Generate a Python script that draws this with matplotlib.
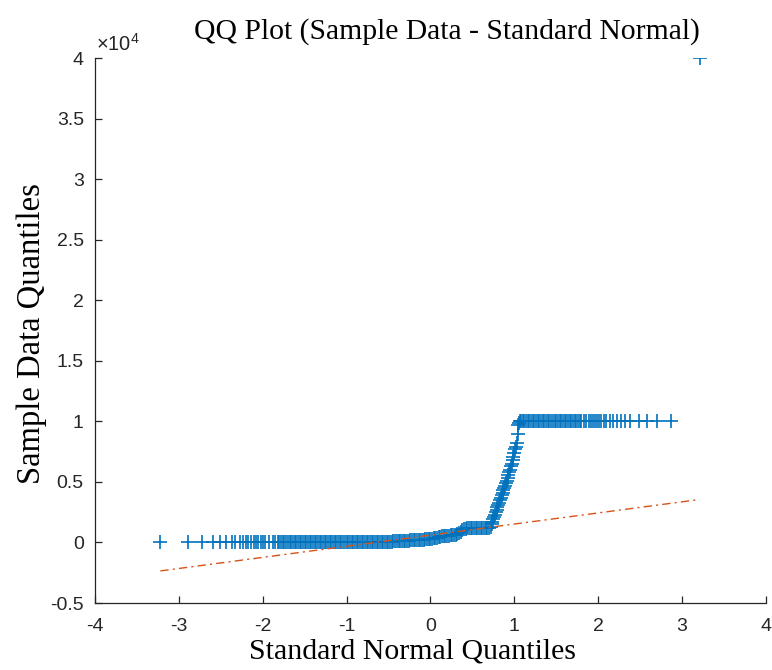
import matplotlib
matplotlib.use("Agg")
import matplotlib.pyplot as plt
from matplotlib.ticker import FuncFormatter

plt.rcParams["mathtext.fontset"] = "custom"
plt.rcParams["mathtext.rm"] = "Liberation Sans"
plt.rcParams["axes.unicode_minus"] = False

# QQ-Punkte: theoretische Quantile (x) und Stichproben-Quantile (y)
qq_x = [
    # linker Rand, einzelne Punkte
    -3.22, -2.89, -2.72, -2.59, -2.51, -2.44, -2.37, -2.33, -2.27, -2.23,
    -2.20, -2.17, -2.14, -2.10, -2.08, -2.05, -2.02, -2.00, -1.97, -1.92,
    -1.88, -1.85, -1.82,
    # dichtes Band um 0
    -1.80, -1.78, -1.76, -1.74, -1.72, -1.70, -1.68, -1.66, -1.64, -1.62,
    -1.60, -1.58, -1.56, -1.54, -1.52, -1.50, -1.48, -1.46, -1.44, -1.42,
    -1.40, -1.38, -1.36, -1.34, -1.32, -1.30, -1.28, -1.26, -1.24, -1.22,
    -1.20, -1.18, -1.16, -1.14, -1.12, -1.10, -1.08, -1.06, -1.04, -1.02,
    -1.00, -0.98, -0.96, -0.94, -0.92, -0.90, -0.88, -0.86, -0.84, -0.82,
    -0.80, -0.78, -0.76, -0.74, -0.72, -0.70, -0.68, -0.66, -0.64, -0.62,
    -0.60, -0.58, -0.56, -0.54, -0.52, -0.50, -0.48, -0.46, -0.44, -0.42,
    -0.40, -0.38, -0.36, -0.34, -0.32,
    # leichter Anstieg
    -0.30, -0.28, -0.26, -0.24, -0.22, -0.20, -0.18, -0.16, -0.14, -0.12,
    -0.10, -0.08, -0.06, -0.04, -0.02, 0.00, 0.02, 0.04, 0.06, 0.08,
    0.10, 0.12, 0.14, 0.16, 0.18, 0.20, 0.22, 0.24, 0.26, 0.28,
    0.30, 0.32, 0.34, 0.36, 0.38, 0.40, 0.42,
    # kleines Plateau
    0.44, 0.46, 0.48, 0.50, 0.52, 0.54, 0.56, 0.58, 0.60, 0.62,
    0.64, 0.66, 0.68, 0.70, 0.72,
    # Sprung auf 10000
    0.73, 0.74, 0.75, 0.76, 0.77, 0.78, 0.79, 0.80, 0.81, 0.82,
    0.83, 0.84, 0.85, 0.86, 0.87, 0.88, 0.89, 0.90, 0.91, 0.92,
    0.93, 0.94, 0.95, 0.96, 0.97, 0.98, 0.99, 1.00, 1.01, 1.02,
    1.03, 1.04, 1.05, 1.06, 1.07,
    # oberes Band
    1.08, 1.10, 1.12, 1.14, 1.16, 1.18, 1.20, 1.22, 1.24, 1.26,
    1.28, 1.30, 1.32, 1.34, 1.36, 1.38, 1.40, 1.42, 1.44, 1.46,
    1.48, 1.50, 1.52, 1.54, 1.56, 1.58, 1.60, 1.62, 1.64, 1.66,
    1.68, 1.70, 1.72, 1.74, 1.76, 1.78, 1.80,
    # rechter Rand
    1.83, 1.86, 1.89, 1.91, 1.94, 1.96, 1.99, 2.01, 2.03, 2.07,
    2.10, 2.14, 2.18, 2.22, 2.27, 2.32, 2.38, 2.49, 2.58, 2.70,
    2.87,
    # Ausreisser
    3.21,
]
qq_y = [
    0, 0, 0, 0, 0, 0, 0, 0, 0, 0,
    0, 0, 0, 0, 0, 0, 0, 0, 0, 0,
    0, 0, 0,
    0, 0, 0, 0, 0, 0, 0, 0, 0, 0,
    0, 0, 0, 0, 0, 0, 0, 0, 0, 0,
    0, 0, 0, 0, 0, 0, 0, 0, 0, 0,
    10, 10, 10, 10, 10, 10, 10, 10, 10, 10,
    10, 10, 10, 10, 10, 10, 10, 10, 10, 10,
    20, 20, 20, 20, 20, 20, 20, 20, 20, 20,
    30, 35, 40, 45, 50, 60, 70, 80, 90, 100,
    110, 115, 120, 125, 130,
    150, 155, 160, 167, 173, 180, 187, 193, 200, 213,
    227, 240, 253, 267, 280, 290, 310, 340, 370, 400,
    440, 470, 500, 520, 540, 560, 575, 590, 605, 620,
    650, 720, 810, 900, 1000, 1100, 1150,
    1160, 1160, 1160, 1170, 1170, 1170, 1170, 1180, 1180, 1180,
    1190, 1190, 1200, 1230, 1300,
    1500, 1700, 1900, 2100, 2300, 2500, 2700, 2900, 3100, 3300,
    3500, 3700, 3900, 4100, 4300, 4500, 4700, 4900, 5100, 5300,
    5600, 5800, 6000, 6300, 6500, 6800, 7100, 7400, 7700, 7900,
    8200, 9000, 9700, 9900, 10000,
    10000, 10000, 10000, 10000, 10000, 10000, 10000, 10000, 10000, 10000,
    10000, 10000, 10000, 10000, 10000, 10000, 10000, 10000, 10000, 10000,
    10000, 10000, 10000, 10000, 10000, 10000, 10000, 10000, 10000, 10000,
    10000, 10000, 10000, 10000, 10000, 10000, 10000,
    10000, 10000, 10000, 10000, 10000, 10000, 10000, 10000, 10000, 10000,
    10000, 10000, 10000, 10000, 10000, 10000, 10000, 10000, 10000, 10000,
    10000,
    40000,
]

# Referenzlinie (Endpunkte)
ref_x = [-3.22, 3.21]
ref_y = [-2350, 3550]

x_ticks = [-4, -3, -2, -1, 0, 1, 2, 3, 4]
y_ticks = [-5000, 0, 5000, 10000, 15000, 20000, 25000, 30000, 35000, 40000]

fig = plt.figure(figsize=(7.72, 6.70), dpi=100)
ax = fig.add_axes([0.123, 0.100, 0.869, 0.813])

ax.plot(qq_x, qq_y, linestyle="none", marker="+", markersize=10,
        markeredgewidth=1.2, color="#0072BD")
ax.plot(ref_x, ref_y, linestyle="-.", color="#D95319", linewidth=1.0,
        dashes=(6, 3, 1.5, 3))

ax.set_xlim(-4, 4)
ax.set_ylim(-5000, 40000)
ax.set_xticks(x_ticks)
ax.set_yticks(y_ticks)
ax.yaxis.set_major_formatter(FuncFormatter(lambda v, p: "%g" % (v / 1e4)))

for s in ["top", "right"]:
    ax.spines[s].set_visible(False)
for s in ["left", "bottom"]:
    ax.spines[s].set_color("#262626")
    ax.spines[s].set_linewidth(0.9)
ax.tick_params(direction="in", length=5, width=0.9, colors="#262626",
               labelsize=14)
ax.tick_params(axis="x", pad=11)
ax.tick_params(axis="y", pad=8)
for lab in ax.get_xticklabels() + ax.get_yticklabels():
    lab.set_family("Liberation Sans")

ax.text(0.002, 1.006, r"$\times10^{4}$", transform=ax.transAxes,
        fontsize=14.5, color="#262626", ha="left", va="bottom")

ax.set_title("QQ Plot (Sample Data - Standard Normal)", family="Liberation Serif",
             fontsize=21.3, pad=14, x=0.525)
ax.set_xlabel("Standard Normal Quantiles", family="Liberation Serif", fontsize=21.5)
ax.set_ylabel("Sample Data Quantiles", family="Liberation Serif", fontsize=23.5)
ax.xaxis.set_label_coords(0.474, -0.066)
ax.yaxis.set_label_coords(-0.072, 0.495)

plt.savefig("out.png", dpi=100)
